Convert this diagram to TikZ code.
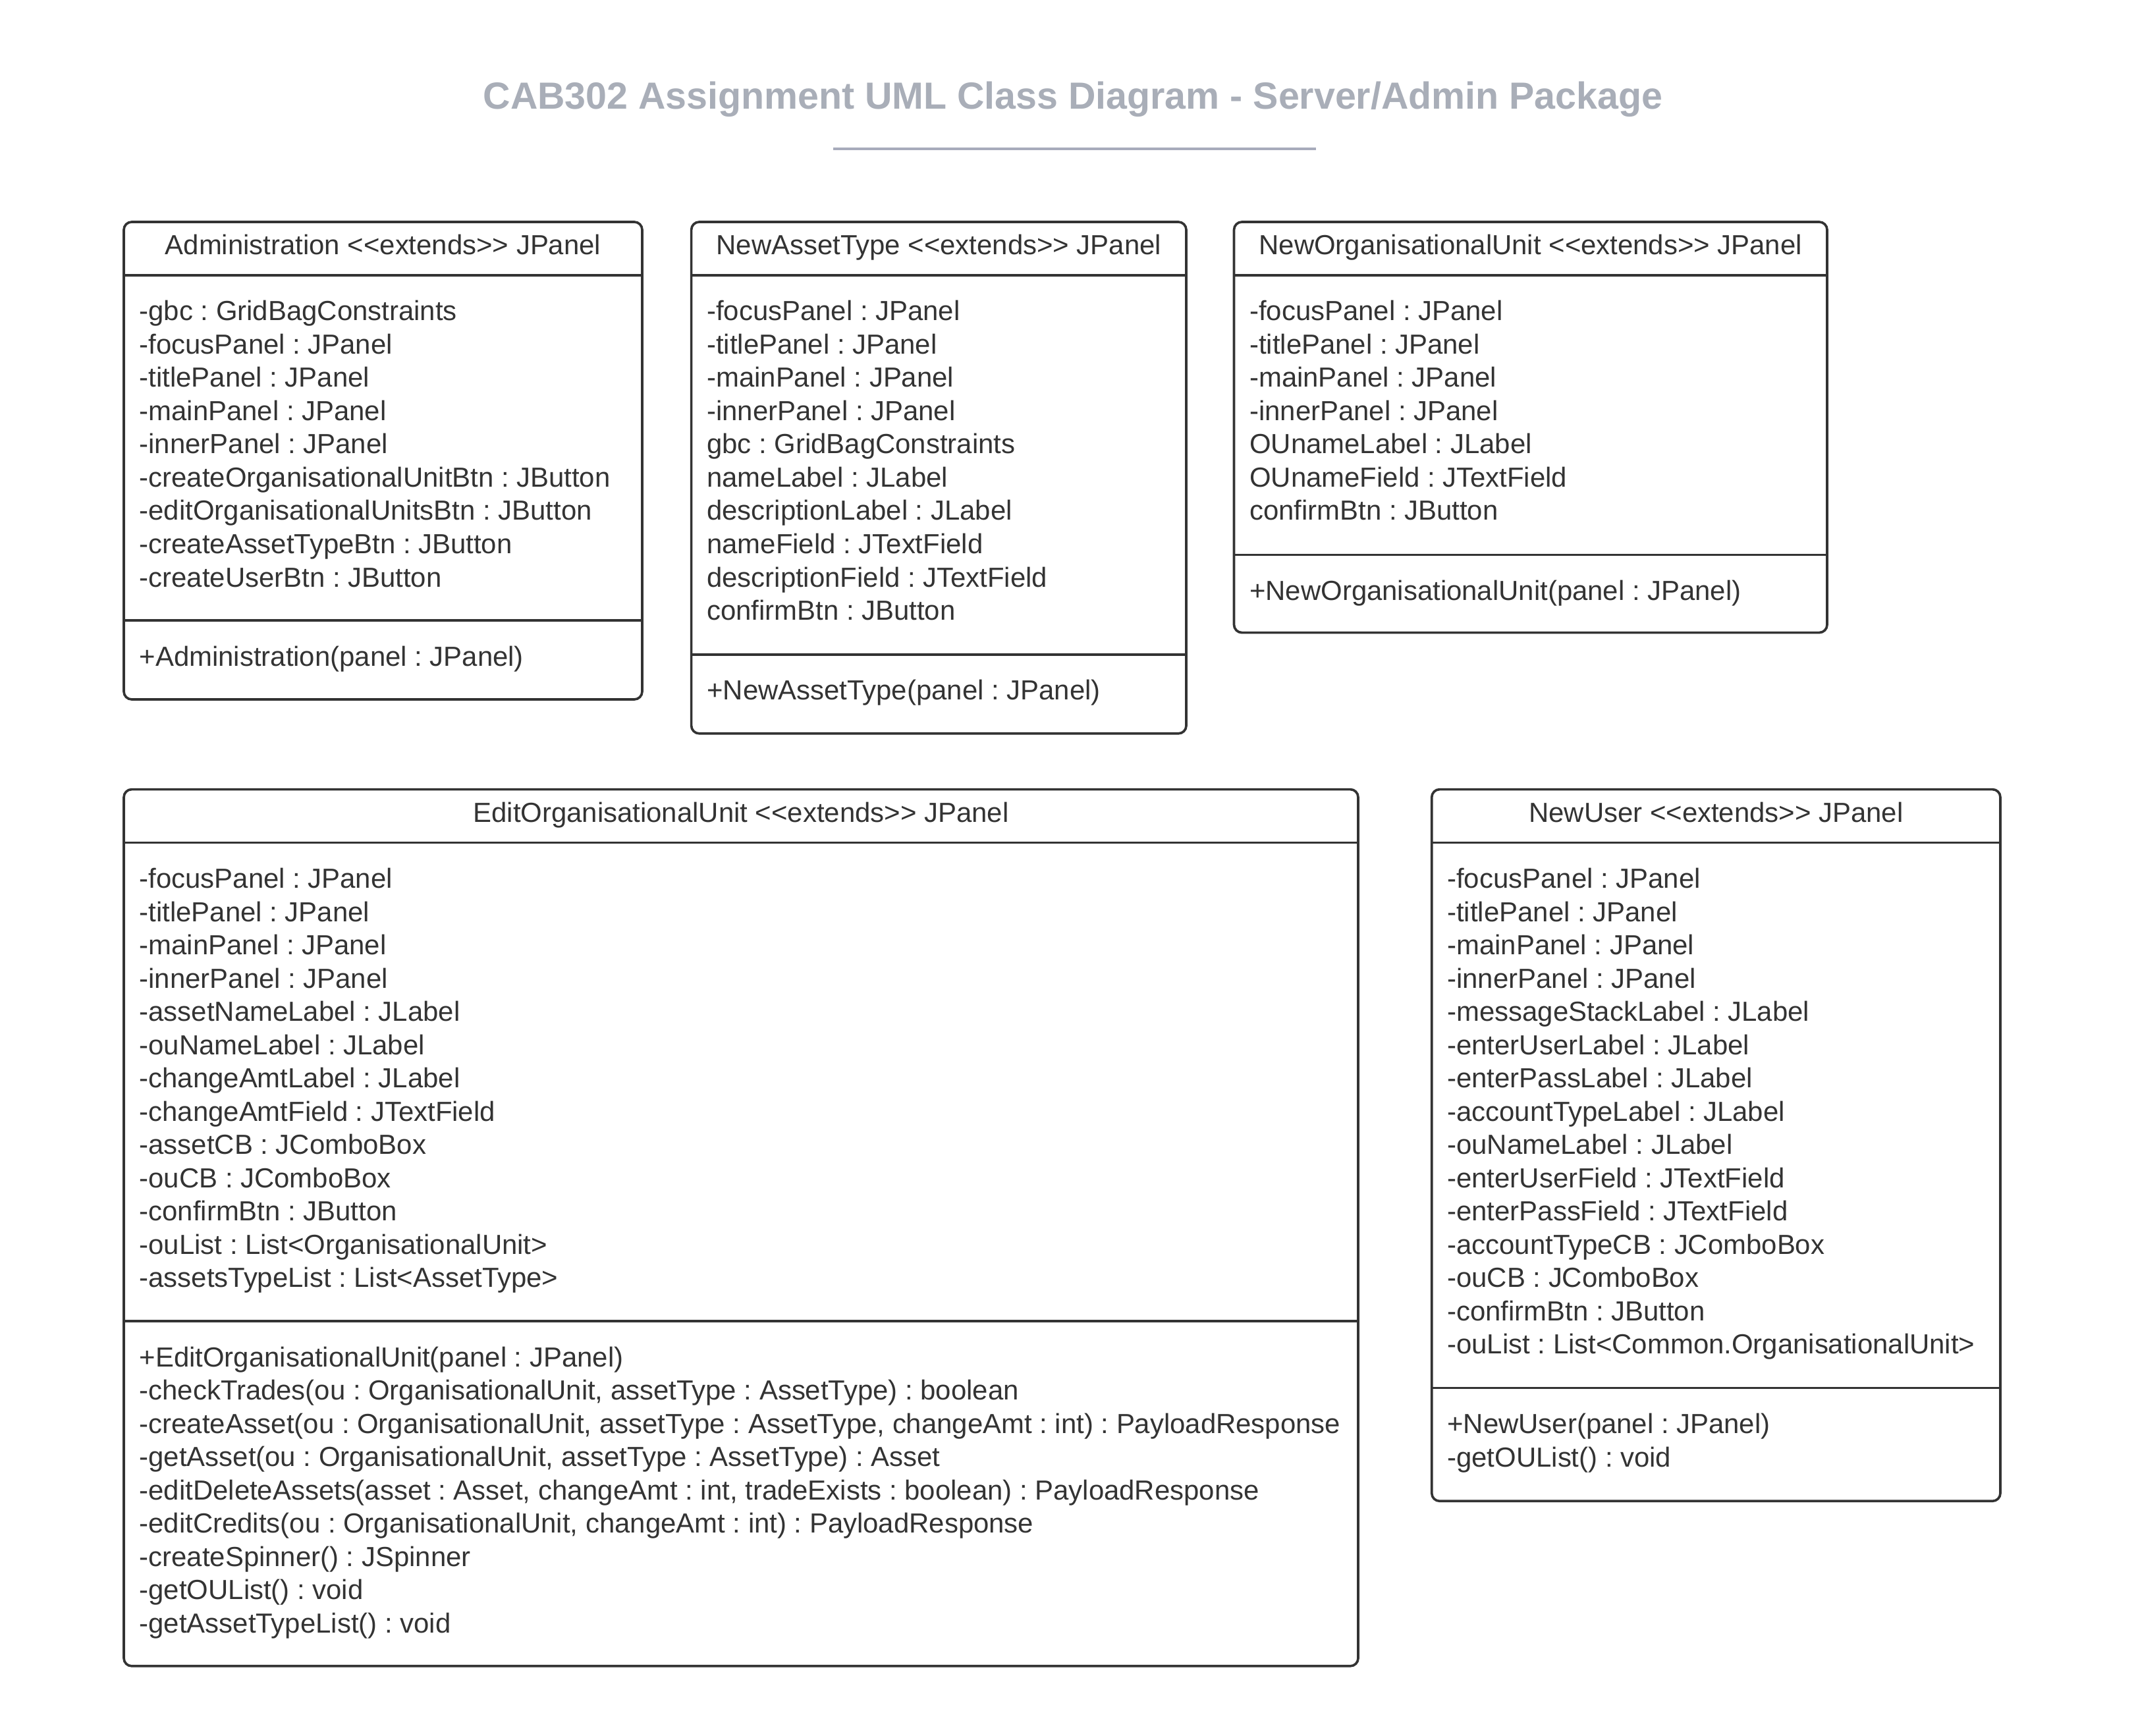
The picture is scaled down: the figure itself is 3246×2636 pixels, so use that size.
\documentclass[tikz,border=0pt]{standalone}
\usepackage{fontspec}
\setmainfont{Liberation Sans}[Ligatures=TeXOff]
\frenchspacing
\definecolor{inkc}{HTML}{333333}
\definecolor{titlec}{HTML}{A9AEB8}
\definecolor{rulec}{HTML}{A7ABBB}
\tikzset{
  classline/.style={draw=inkc, line width=1.1pt},
  classbox/.style={draw=inkc, line width=1.1pt, rounded corners=3.6pt},
  bodytext/.style={anchor=base west, inner sep=0pt, text=inkc, font=\fontsize{12.57pt}{15.15pt}\selectfont\frenchspacing},
  headtext/.style={anchor=base, inner sep=0pt, text=inkc, font=\fontsize{12.57pt}{15.15pt}\selectfont\frenchspacing},
  titletext/.style={anchor=base, inner sep=0pt, text=titlec, font=\fontsize{17.2pt}{20pt}\selectfont\bfseries}
}
% #1 name, #2 L, #3 R, #4 T, #5 M, #6 B, #7 title, #8 attrs, #9 methods
\newcommand\umlclass[9]{%
  \draw[classbox] (#2,#4) rectangle (#3,#6);
  \node[headtext] (#1-title) at ({(#2+#3)/2},{#4+35.5+14}) {#7};
  \draw[classline] (#2,{#4+81}) -- (#3,{#4+81});
  \foreach \txt [count=\i] in {#8}
    \node[bodytext] (#1-a\i) at ({#2+23},{#4+81+55+(\i-1)*50.5+14}) {\txt};
  \draw[classline] (#2,#5) -- (#3,#5);
  \foreach \txt [count=\i] in {#9}
    \node[bodytext] (#1-m\i) at ({#2+23},{#5+55+(\i-1)*50.5+14}) {\txt};
}
\begin{document}
\begin{tikzpicture}[x=0.3pt,y=-0.3pt]
\useasboundingbox (0,0) rectangle (3246,2636);
\fill[white] (0,0) rectangle (3246,2636);
\node[titletext] (title) at (1629,165.5) {CAB302 Assignment UML Class Diagram - Server/Admin Package};
\coordinate (ulL) at (1265,225.6);
\coordinate (ulR) at (1998,225.6);
\draw[draw=rulec, line width=1.2pt] (ulL) -- (ulR);

\umlclass{adm}{188}{975}{337}{942}{1062}{Administration <<extends>> JPanel}
{-gbc : GridBagConstraints,-focusPanel : JPanel,-titlePanel : JPanel,-mainPanel : JPanel,-innerPanel : JPanel,-createOrganisationalUnitBtn : JButton,-editOrganisationalUnitsBtn : JButton,-createAssetTypeBtn : JButton,-createUserBtn : JButton}
{+Administration(panel : JPanel)}

\umlclass{nat}{1049.6}{1801}{337}{993.7}{1113.8}{NewAssetType <<extends>> JPanel}
{-focusPanel : JPanel,-titlePanel : JPanel,-mainPanel : JPanel,-innerPanel : JPanel,gbc : GridBagConstraints,nameLabel : JLabel,descriptionLabel : JLabel,nameField : JTextField,descriptionField : JTextField,confirmBtn : JButton}
{+NewAssetType(panel : JPanel)}

\umlclass{nou}{1873.5}{2774}{337}{842.6}{960.6}{NewOrganisationalUnit <<extends>> JPanel}
{-focusPanel : JPanel,-titlePanel : JPanel,-mainPanel : JPanel,-innerPanel : JPanel,OUnameLabel : JLabel,OUnameField : JTextField,confirmBtn : JButton}
{+NewOrganisationalUnit(panel : JPanel)}

\umlclass{eou}{188}{2062}{1198.6}{2006}{2529.8}{EditOrganisationalUnit <<extends>> JPanel}
{-focusPanel : JPanel,-titlePanel : JPanel,-mainPanel : JPanel,-innerPanel : JPanel,-assetNameLabel : JLabel,-ouNameLabel : JLabel,-changeAmtLabel : JLabel,-changeAmtField : JTextField,-assetCB : JComboBox,-ouCB : JComboBox,-confirmBtn : JButton,-ouList : List<OrganisationalUnit>,-assetsTypeList : List<AssetType>}
{+EditOrganisationalUnit(panel : JPanel),{-checkTrades(ou : OrganisationalUnit, assetType : AssetType) : boolean},{-createAsset(ou : OrganisationalUnit, assetType : AssetType, changeAmt : int) : PayloadResponse},{-getAsset(ou : OrganisationalUnit, assetType : AssetType) : Asset},{-editDeleteAssets(asset : Asset, changeAmt : int, tradeExists : boolean) : PayloadResponse},{-editCredits(ou : OrganisationalUnit, changeAmt : int) : PayloadResponse},-createSpinner() : JSpinner,-getOUList() : void,-getAssetTypeList() : void}

\umlclass{nus}{2173.7}{3037}{1198.6}{2107.5}{2279.3}{NewUser <<extends>> JPanel}
{-focusPanel : JPanel,-titlePanel : JPanel,-mainPanel : JPanel,-innerPanel : JPanel,-messageStackLabel : JLabel,-enterUserLabel : JLabel,-enterPassLabel : JLabel,-accountTypeLabel : JLabel,-ouNameLabel : JLabel,-enterUserField : JTextField,-enterPassField : JTextField,-accountTypeCB : JComboBox,-ouCB : JComboBox,-confirmBtn : JButton,-ouList : List<Common.OrganisationalUnit>}
{+NewUser(panel : JPanel),-getOUList() : void}
\end{tikzpicture}
\end{document}
